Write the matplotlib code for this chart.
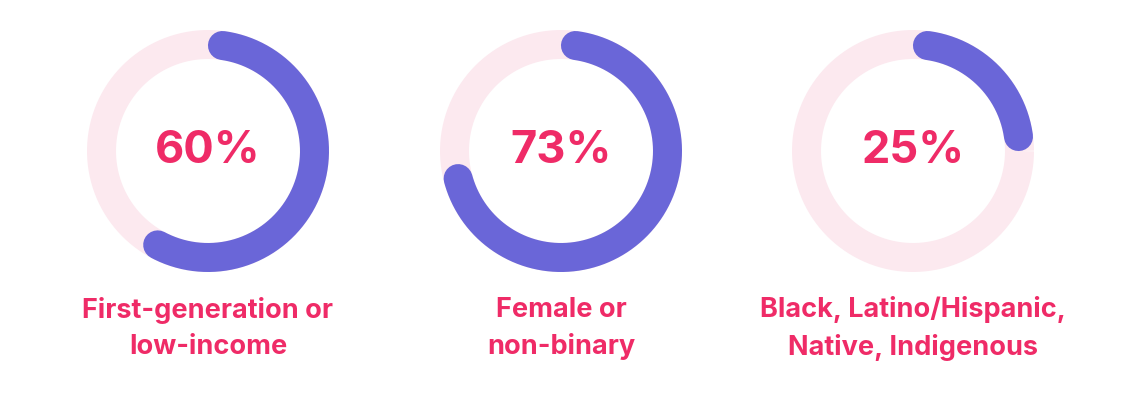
import numpy as np
import matplotlib
matplotlib.use("Agg")
import matplotlib.pyplot as plt

# data
percents = [60, 73, 25]
labels = ["First-generation or\nlow-income",
          "Female or\nnon-binary",
          "Black, Latino/Hispanic,\nNative, Indigenous"]

PURPLE = "#6A66D8"
TRACK = "#FCE9EF"
PINK = "#EF2B67"

W, H = 1128, 397
fig = plt.figure(figsize=(W / 100, H / 100), dpi=100)
ax = fig.add_axes([0, 0, 1, 1])
ax.set_xlim(0, W)
ax.set_ylim(H, 0)
ax.set_aspect("equal")
ax.axis("off")

centers_x = [208, 561, 913]
cy = 151
r = 106.5          # ring centre-line radius (px)
thick = 29         # ring thickness (px)
lw = thick * 0.72  # px -> pt at 100 dpi
cap = np.degrees((thick / 2) / r)

for cx, p, lab in zip(centers_x, percents, labels):
    t = np.linspace(0, 2 * np.pi, 400)
    ax.plot(cx + r * np.cos(t), cy + r * np.sin(t), color=TRACK, lw=lw,
            solid_capstyle="butt", zorder=1)
    # arc clockwise from 12 o'clock; round caps kept inside the share
    a0 = 90 - cap
    a1 = 90 - 360 * p / 100 + cap
    a = np.radians(np.linspace(a0, a1, 300))
    ax.plot(cx + r * np.cos(a), cy - r * np.sin(a), color=PURPLE, lw=lw,
            solid_capstyle="round", zorder=2)
    ax.text(cx, cy, f"{p}%", ha="center", va="center", color=PINK,
            fontsize=32.5, fontweight="bold", family="Inter")
    ax.text(cx, 328.5, lab, ha="center", va="center", color=PINK,
            fontsize=19.5, fontweight="bold", family="Inter", linespacing=1.5)

fig.savefig("out.png", dpi=100)
